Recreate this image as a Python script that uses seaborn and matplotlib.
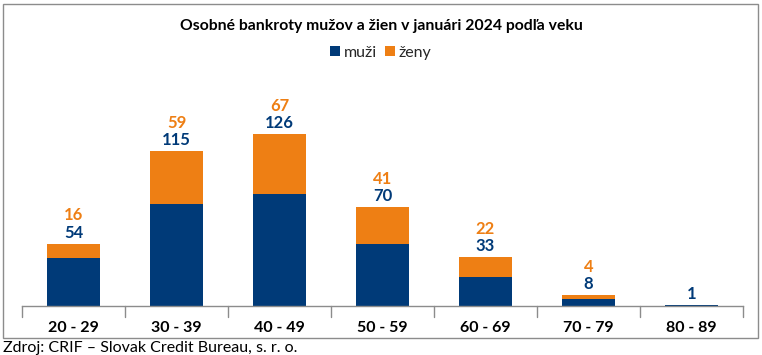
import matplotlib
matplotlib.use("Agg")
import matplotlib.pyplot as plt
import seaborn as sns
import pandas as pd
from matplotlib.patches import Rectangle

categories = ["20 - 29", "30 - 39", "40 - 49", "50 - 59", "60 - 69", "70 - 79", "80 - 89"]
muzi = [54, 115, 126, 70, 33, 8, 1]
zeny = [16, 59, 67, 41, 22, 4, 0]

c_m = "#003A78"
c_z = "#EE7F14"

sns.set_theme(style="white")
plt.rcParams['font.family'] = ['Lato', 'DejaVu Sans']

W, H = 762, 355
fig = plt.figure(figsize=(W / 100, H / 100), dpi=100)
L, R, B, T = 22, 743, 306, 70
ax = fig.add_axes([L / W, 1 - B / H, (R - L) / W, (B - T) / H])

df = pd.DataFrame({"cat": categories, "muzi": muzi, "zeny": zeny})
df["total"] = df["muzi"] + df["zeny"]

bw = 0.515
sns.barplot(data=df, x="cat", y="total", color=c_z, width=bw, ax=ax, saturation=1, label="ženy", linewidth=0)
sns.barplot(data=df, x="cat", y="muzi", color=c_m, width=bw, ax=ax, saturation=1, label="muži", linewidth=0)

ax.set_ylim(0, (B - T) / 0.889)
ax.set_xlim(-0.5, len(categories) - 0.5)
ax.set_xlabel("")
ax.set_ylabel("")
ax.set_yticks([])
for s in ["top", "right", "left"]:
    ax.spines[s].set_visible(False)
ax.spines["bottom"].set_color("#8C8C8C")
ax.spines["bottom"].set_linewidth(1)

ax.set_xticks(range(len(categories)))
ax.set_xticklabels(categories, fontsize=11.5, fontweight="bold", color="black")
ax.tick_params(axis="x", length=0, pad=11)
for b in [i - 0.5 for i in range(len(categories) + 1)]:
    ax.plot([b, b], [0, -0.045], transform=ax.get_xaxis_transform(), color="#8C8C8C", lw=1, clip_on=False)

for i, (m, z) in enumerate(zip(muzi, zeny)):
    tot = m + z
    ax.annotate(str(m), (i, tot), xytext=(0, 8), textcoords="offset points", ha="center", va="center",
                fontsize=12, fontweight="bold", color=c_m)
    if z > 0:
        ax.annotate(str(z), (i, tot), xytext=(0, 20.5), textcoords="offset points", ha="center", va="center",
                    fontsize=12, fontweight="bold", color=c_z)

handles, labels = ax.get_legend_handles_labels()
order = [labels.index("muži"), labels.index("ženy")]
fig.legend([handles[k] for k in order], [labels[k] for k in order], loc="center", bbox_to_anchor=(0.5, 1 - 53 / H),
           ncol=2, frameon=False, fontsize=11.5, handlelength=0.6, handleheight=0.6, handletextpad=0.25,
           columnspacing=0.5, borderpad=0)
if ax.get_legend():
    ax.get_legend().remove()

fig.text(0.5, 1 - 26 / H, "Osobné bankroty mužov a žien v januári 2024 podľa veku", ha="center", va="center",
         fontsize=11.3, fontweight="bold", color="black")

fig.patches.append(Rectangle((3 / W, 1 - 338 / H), 755 / W, 334 / H, transform=fig.transFigure,
                             fill=False, edgecolor="#8C8C8C", lw=1))

fig.text(3 / W, 1 - 348 / H, "Zdroj: CRIF – Slovak Credit Bureau, s. r. o.", ha="left", va="center",
         fontsize=11.5, color="black")

fig.savefig("out.png", dpi=100)
